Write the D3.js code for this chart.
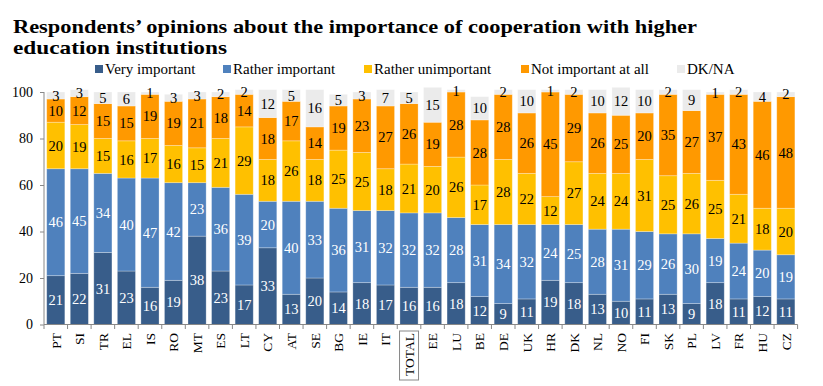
<!DOCTYPE html>
<html><head><meta charset="utf-8">
<script src="https://cdn.jsdelivr.net/npm/d3@7"></script>
<style>body{margin:0;background:#fff}svg{display:block}</style>
</head><body>
<svg id="c" width="823" height="386"></svg>
<script>
const categories = ["PT","SI","TR","EL","IS","RO","MT","ES","LT","CY","AT","SE","BG","IE","IT","TOTAL","EE","LU","BE","DE","UK","HR","DK","NL","NO","FI","SK","PL","LV","FR","HU","CZ"];
const veryImportant     = [21,22,31,23,16,19,38,23,17,33,13,20,14,18,17,16,16,18,12,9,11,19,18,13,10,11,13,9,18,11,12,11];
const ratherImportant   = [46,45,34,40,47,42,23,36,39,20,40,33,36,31,32,32,32,28,31,34,32,24,25,28,31,29,26,30,19,24,20,19];
const ratherUnimportant = [20,19,15,16,17,16,15,21,29,18,26,18,25,25,18,21,20,26,17,28,22,12,27,24,24,31,25,26,25,21,18,20];
const notImportant      = [10,12,15,15,19,19,21,18,14,18,17,14,19,23,27,26,19,28,28,28,26,45,29,26,25,20,35,27,37,43,46,48];
const dkna              = [3,3,5,6,1,3,3,2,2,12,5,16,5,3,7,5,15,1,10,2,10,1,2,10,12,10,2,9,1,2,4,2];
const seriesNames = ["Very important","Rather important","Rather unimportant","Not important at all","DK/NA"];
const yTicks = [0,20,40,60,80,100];

const colors = ["#385D8A","#4F81BD","#FFC000","#FF9900","#EBEBEB"];
const labelColors = ["#fff","#fff","#000","#000","#000"];

const svg = d3.select("#c");
const serif = "Liberation Serif";

// title
const title = svg.append("g").attr("font-family", serif).attr("font-weight","bold").attr("font-size",19).attr("fill","#000");
title.append("text").attr("x",13).attr("y",33).attr("textLength",684).attr("lengthAdjust","spacingAndGlyphs")
  .text("Respondents’ opinions about the importance of cooperation with higher");
title.append("text").attr("x",13).attr("y",53.5).attr("textLength",214).attr("lengthAdjust","spacingAndGlyphs")
  .text("education institutions");

// legend
const legX = [95,223,364,521,677];
const leg = svg.append("g").attr("font-family", serif).attr("font-size",15);
seriesNames.forEach((n,i)=>{
  leg.append("rect").attr("x",legX[i]).attr("y",65).attr("width",8).attr("height",8).attr("fill",colors[i]);
  leg.append("text").attr("x",legX[i]+10).attr("y",74).text(n);
});

// scales
const x = d3.scaleBand().domain(categories).range([44,797.6]).paddingInner(0.23).paddingOuter(0.115);
const y = d3.scaleLinear().domain([0,100]).range([324.5,92]);

const data = categories.map((c,i)=>{
  const vals=[veryImportant[i],ratherImportant[i],ratherUnimportant[i],notImportant[i],dkna[i]];
  const o={cat:c}; seriesNames.forEach((n,k)=>o[n]=vals[k]); return o;
});
const stacked = d3.stack().keys(seriesNames)(data);

const gBars = svg.append("g");
stacked.forEach((layer,k)=>{
  gBars.selectAll(null).data(layer).enter().append("rect")
    .attr("x",d=>x(d.data.cat)).attr("width",x.bandwidth())
    .attr("y",d=>y(d[1])).attr("height",d=>y(d[0])-y(d[1]))
    .attr("fill",colors[k]).attr("stroke","#fff").attr("stroke-opacity",0.35).attr("stroke-width",0.8);
});
const gLab = svg.append("g").attr("font-family", serif).attr("font-size",14.5).attr("text-anchor","middle");
stacked.forEach((layer,k)=>{
  gLab.selectAll(null).data(layer).enter().append("text")
    .attr("x",d=>x(d.data.cat)+x.bandwidth()/2)
    .attr("y",d=>(y(d[0])+y(d[1]))/2).attr("dy","0.35em")
    .attr("fill",labelColors[k])
    .text(d=>d[1]-d[0]);
});

// y axis
const yAxis = d3.axisLeft(y).tickValues(yTicks).tickSize(4).tickPadding(7);
const gy = svg.append("g").attr("transform","translate(44,0)").call(yAxis);
gy.attr("font-family", serif).attr("font-size",14);
gy.select(".domain").attr("stroke","#888").attr("d","M0,92V324.5");
gy.selectAll(".tick line").attr("stroke","#888");
gy.selectAll("text").attr("fill","#000");

// x axis
const gx = svg.append("g");
gx.append("line").attr("x1",44).attr("x2",797.6).attr("y1",324.5).attr("y2",324.5).attr("stroke","#888");
const step = x.step();
d3.range(categories.length+1).forEach(i=>{
  const xx = 44 + i*step;
  gx.append("line").attr("x1",xx).attr("x2",xx).attr("y1",324.5).attr("y2",329).attr("stroke","#888");
});
const gxl = svg.append("g").attr("font-family",serif).attr("font-size",13.5);
categories.forEach(c=>{
  const cx = x(c)+x.bandwidth()/2;
  gxl.append("text").attr("transform",`translate(${cx},333) rotate(-90)`)
    .attr("text-anchor","end").attr("dy","0.35em").text(c);
});
// TOTAL box
const tc = x("TOTAL")+x.bandwidth()/2;
svg.append("rect").attr("x",tc-9.5).attr("y",331).attr("width",19).attr("height",49)
  .attr("fill","none").attr("stroke","#888").attr("stroke-width",1);
</script>
</body></html>
